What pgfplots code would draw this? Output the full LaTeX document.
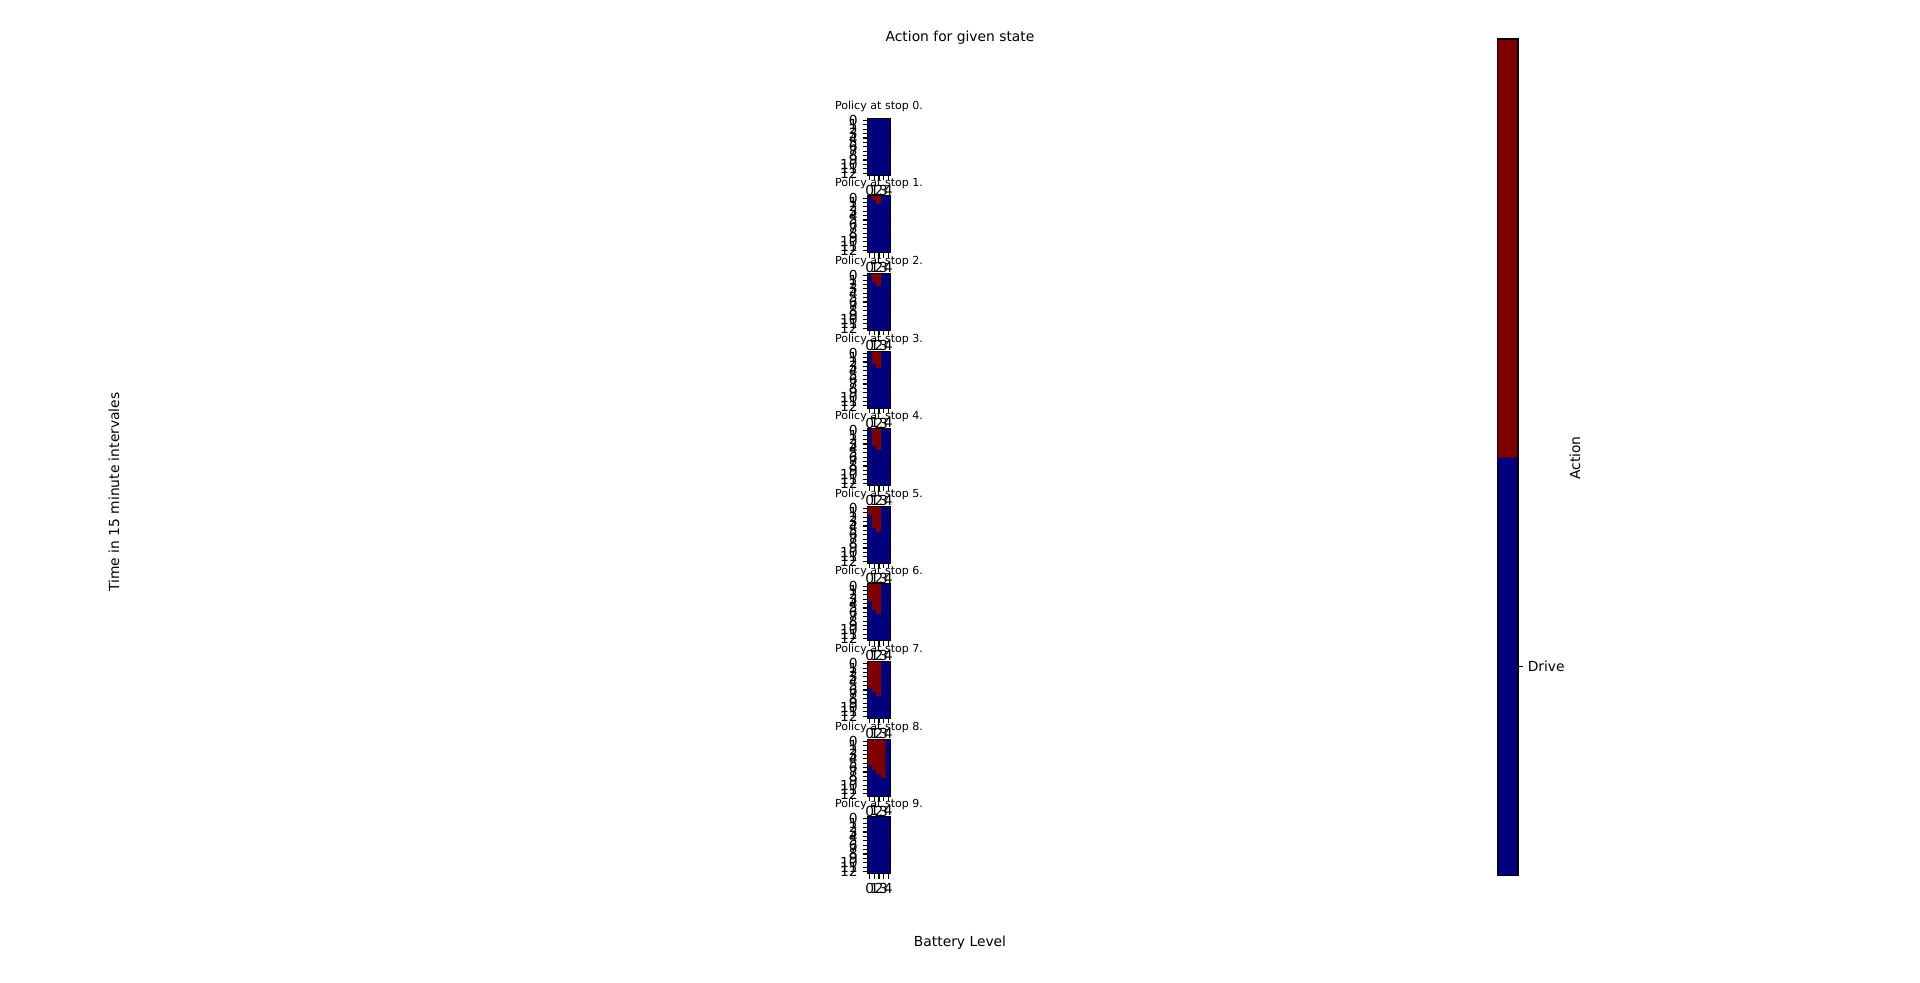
\documentclass[border=0pt]{standalone}
\usepackage{fontspec}
\setmainfont{DejaVu Sans}
\usepackage{pgfplots}
\usepackage{pgfplotstable}
\pgfplotsset{compat=1.18}

% stop 0
\pgfplotstableread[row sep=\\]{
x y c\\
0 0 0\\1 0 0\\2 0 0\\3 0 0\\4 0 0\\
0 1 0\\1 1 0\\2 1 0\\3 1 0\\4 1 0\\
0 2 0\\1 2 0\\2 2 0\\3 2 0\\4 2 0\\
0 3 0\\1 3 0\\2 3 0\\3 3 0\\4 3 0\\
0 4 0\\1 4 0\\2 4 0\\3 4 0\\4 4 0\\
0 5 0\\1 5 0\\2 5 0\\3 5 0\\4 5 0\\
0 6 0\\1 6 0\\2 6 0\\3 6 0\\4 6 0\\
0 7 0\\1 7 0\\2 7 0\\3 7 0\\4 7 0\\
0 8 0\\1 8 0\\2 8 0\\3 8 0\\4 8 0\\
0 9 0\\1 9 0\\2 9 0\\3 9 0\\4 9 0\\
0 10 0\\1 10 0\\2 10 0\\3 10 0\\4 10 0\\
0 11 0\\1 11 0\\2 11 0\\3 11 0\\4 11 0\\
0 12 0\\1 12 0\\2 12 0\\3 12 0\\4 12 0\\
}\stopA
% stop 1
\pgfplotstableread[row sep=\\]{
x y c\\
0 0 0\\1 0 1\\2 0 1\\3 0 0\\4 0 0\\
0 1 0\\1 1 0\\2 1 1\\3 1 0\\4 1 0\\
0 2 0\\1 2 0\\2 2 0\\3 2 0\\4 2 0\\
0 3 0\\1 3 0\\2 3 0\\3 3 0\\4 3 0\\
0 4 0\\1 4 0\\2 4 0\\3 4 0\\4 4 0\\
0 5 0\\1 5 0\\2 5 0\\3 5 0\\4 5 0\\
0 6 0\\1 6 0\\2 6 0\\3 6 0\\4 6 0\\
0 7 0\\1 7 0\\2 7 0\\3 7 0\\4 7 0\\
0 8 0\\1 8 0\\2 8 0\\3 8 0\\4 8 0\\
0 9 0\\1 9 0\\2 9 0\\3 9 0\\4 9 0\\
0 10 0\\1 10 0\\2 10 0\\3 10 0\\4 10 0\\
0 11 0\\1 11 0\\2 11 0\\3 11 0\\4 11 0\\
0 12 0\\1 12 0\\2 12 0\\3 12 0\\4 12 0\\
}\stopB
% stop 2
\pgfplotstableread[row sep=\\]{
x y c\\
0 0 0\\1 0 1\\2 0 1\\3 0 0\\4 0 0\\
0 1 0\\1 1 1\\2 1 1\\3 1 0\\4 1 0\\
0 2 0\\1 2 0\\2 2 1\\3 2 0\\4 2 0\\
0 3 0\\1 3 0\\2 3 0\\3 3 0\\4 3 0\\
0 4 0\\1 4 0\\2 4 0\\3 4 0\\4 4 0\\
0 5 0\\1 5 0\\2 5 0\\3 5 0\\4 5 0\\
0 6 0\\1 6 0\\2 6 0\\3 6 0\\4 6 0\\
0 7 0\\1 7 0\\2 7 0\\3 7 0\\4 7 0\\
0 8 0\\1 8 0\\2 8 0\\3 8 0\\4 8 0\\
0 9 0\\1 9 0\\2 9 0\\3 9 0\\4 9 0\\
0 10 0\\1 10 0\\2 10 0\\3 10 0\\4 10 0\\
0 11 0\\1 11 0\\2 11 0\\3 11 0\\4 11 0\\
0 12 0\\1 12 0\\2 12 0\\3 12 0\\4 12 0\\
}\stopC
% stop 3
\pgfplotstableread[row sep=\\]{
x y c\\
0 0 0\\1 0 1\\2 0 1\\3 0 0\\4 0 0\\
0 1 0\\1 1 1\\2 1 1\\3 1 0\\4 1 0\\
0 2 0\\1 2 1\\2 2 1\\3 2 0\\4 2 0\\
0 3 0\\1 3 0\\2 3 1\\3 3 0\\4 3 0\\
0 4 0\\1 4 0\\2 4 0\\3 4 0\\4 4 0\\
0 5 0\\1 5 0\\2 5 0\\3 5 0\\4 5 0\\
0 6 0\\1 6 0\\2 6 0\\3 6 0\\4 6 0\\
0 7 0\\1 7 0\\2 7 0\\3 7 0\\4 7 0\\
0 8 0\\1 8 0\\2 8 0\\3 8 0\\4 8 0\\
0 9 0\\1 9 0\\2 9 0\\3 9 0\\4 9 0\\
0 10 0\\1 10 0\\2 10 0\\3 10 0\\4 10 0\\
0 11 0\\1 11 0\\2 11 0\\3 11 0\\4 11 0\\
0 12 0\\1 12 0\\2 12 0\\3 12 0\\4 12 0\\
}\stopD
% stop 4
\pgfplotstableread[row sep=\\]{
x y c\\
0 0 0\\1 0 1\\2 0 1\\3 0 0\\4 0 0\\
0 1 0\\1 1 1\\2 1 1\\3 1 0\\4 1 0\\
0 2 0\\1 2 1\\2 2 1\\3 2 0\\4 2 0\\
0 3 0\\1 3 1\\2 3 1\\3 3 0\\4 3 0\\
0 4 0\\1 4 0\\2 4 1\\3 4 0\\4 4 0\\
0 5 0\\1 5 0\\2 5 0\\3 5 0\\4 5 0\\
0 6 0\\1 6 0\\2 6 0\\3 6 0\\4 6 0\\
0 7 0\\1 7 0\\2 7 0\\3 7 0\\4 7 0\\
0 8 0\\1 8 0\\2 8 0\\3 8 0\\4 8 0\\
0 9 0\\1 9 0\\2 9 0\\3 9 0\\4 9 0\\
0 10 0\\1 10 0\\2 10 0\\3 10 0\\4 10 0\\
0 11 0\\1 11 0\\2 11 0\\3 11 0\\4 11 0\\
0 12 0\\1 12 0\\2 12 0\\3 12 0\\4 12 0\\
}\stopE
% stop 5
\pgfplotstableread[row sep=\\]{
x y c\\
0 0 1\\1 0 1\\2 0 1\\3 0 0\\4 0 0\\
0 1 1\\1 1 1\\2 1 1\\3 1 0\\4 1 0\\
0 2 0\\1 2 1\\2 2 1\\3 2 0\\4 2 0\\
0 3 0\\1 3 1\\2 3 1\\3 3 0\\4 3 0\\
0 4 0\\1 4 1\\2 4 1\\3 4 0\\4 4 0\\
0 5 0\\1 5 0\\2 5 1\\3 5 0\\4 5 0\\
0 6 0\\1 6 0\\2 6 0\\3 6 0\\4 6 0\\
0 7 0\\1 7 0\\2 7 0\\3 7 0\\4 7 0\\
0 8 0\\1 8 0\\2 8 0\\3 8 0\\4 8 0\\
0 9 0\\1 9 0\\2 9 0\\3 9 0\\4 9 0\\
0 10 0\\1 10 0\\2 10 0\\3 10 0\\4 10 0\\
0 11 0\\1 11 0\\2 11 0\\3 11 0\\4 11 0\\
0 12 0\\1 12 0\\2 12 0\\3 12 0\\4 12 0\\
}\stopF
% stop 6
\pgfplotstableread[row sep=\\]{
x y c\\
0 0 1\\1 0 1\\2 0 1\\3 0 0\\4 0 0\\
0 1 1\\1 1 1\\2 1 1\\3 1 0\\4 1 0\\
0 2 1\\1 2 1\\2 2 1\\3 2 0\\4 2 0\\
0 3 1\\1 3 1\\2 3 1\\3 3 0\\4 3 0\\
0 4 0\\1 4 1\\2 4 1\\3 4 0\\4 4 0\\
0 5 0\\1 5 1\\2 5 1\\3 5 0\\4 5 0\\
0 6 0\\1 6 0\\2 6 1\\3 6 0\\4 6 0\\
0 7 0\\1 7 0\\2 7 0\\3 7 0\\4 7 0\\
0 8 0\\1 8 0\\2 8 0\\3 8 0\\4 8 0\\
0 9 0\\1 9 0\\2 9 0\\3 9 0\\4 9 0\\
0 10 0\\1 10 0\\2 10 0\\3 10 0\\4 10 0\\
0 11 0\\1 11 0\\2 11 0\\3 11 0\\4 11 0\\
0 12 0\\1 12 0\\2 12 0\\3 12 0\\4 12 0\\
}\stopG
% stop 7
\pgfplotstableread[row sep=\\]{
x y c\\
0 0 1\\1 0 1\\2 0 1\\3 0 0\\4 0 0\\
0 1 1\\1 1 1\\2 1 1\\3 1 0\\4 1 0\\
0 2 1\\1 2 1\\2 2 1\\3 2 0\\4 2 0\\
0 3 1\\1 3 1\\2 3 1\\3 3 0\\4 3 0\\
0 4 1\\1 4 1\\2 4 1\\3 4 0\\4 4 0\\
0 5 1\\1 5 1\\2 5 1\\3 5 0\\4 5 0\\
0 6 0\\1 6 1\\2 6 1\\3 6 0\\4 6 0\\
0 7 0\\1 7 0\\2 7 1\\3 7 0\\4 7 0\\
0 8 0\\1 8 0\\2 8 0\\3 8 0\\4 8 0\\
0 9 0\\1 9 0\\2 9 0\\3 9 0\\4 9 0\\
0 10 0\\1 10 0\\2 10 0\\3 10 0\\4 10 0\\
0 11 0\\1 11 0\\2 11 0\\3 11 0\\4 11 0\\
0 12 0\\1 12 0\\2 12 0\\3 12 0\\4 12 0\\
}\stopH
% stop 8
\pgfplotstableread[row sep=\\]{
x y c\\
0 0 1\\1 0 1\\2 0 1\\3 0 1\\4 0 0\\
0 1 1\\1 1 1\\2 1 1\\3 1 1\\4 1 0\\
0 2 1\\1 2 1\\2 2 1\\3 2 1\\4 2 0\\
0 3 1\\1 3 1\\2 3 1\\3 3 1\\4 3 0\\
0 4 1\\1 4 1\\2 4 1\\3 4 1\\4 4 0\\
0 5 1\\1 5 1\\2 5 1\\3 5 1\\4 5 0\\
0 6 0\\1 6 1\\2 6 1\\3 6 1\\4 6 0\\
0 7 0\\1 7 0\\2 7 1\\3 7 1\\4 7 0\\
0 8 0\\1 8 0\\2 8 0\\3 8 1\\4 8 0\\
0 9 0\\1 9 0\\2 9 0\\3 9 0\\4 9 0\\
0 10 0\\1 10 0\\2 10 0\\3 10 0\\4 10 0\\
0 11 0\\1 11 0\\2 11 0\\3 11 0\\4 11 0\\
0 12 0\\1 12 0\\2 12 0\\3 12 0\\4 12 0\\
}\stopI
% stop 9
\pgfplotstableread[row sep=\\]{
x y c\\
0 0 0\\1 0 0\\2 0 0\\3 0 0\\4 0 0\\
0 1 0\\1 1 0\\2 1 0\\3 1 0\\4 1 0\\
0 2 0\\1 2 0\\2 2 0\\3 2 0\\4 2 0\\
0 3 0\\1 3 0\\2 3 0\\3 3 0\\4 3 0\\
0 4 0\\1 4 0\\2 4 0\\3 4 0\\4 4 0\\
0 5 0\\1 5 0\\2 5 0\\3 5 0\\4 5 0\\
0 6 0\\1 6 0\\2 6 0\\3 6 0\\4 6 0\\
0 7 0\\1 7 0\\2 7 0\\3 7 0\\4 7 0\\
0 8 0\\1 8 0\\2 8 0\\3 8 0\\4 8 0\\
0 9 0\\1 9 0\\2 9 0\\3 9 0\\4 9 0\\
0 10 0\\1 10 0\\2 10 0\\3 10 0\\4 10 0\\
0 11 0\\1 11 0\\2 11 0\\3 11 0\\4 11 0\\
0 12 0\\1 12 0\\2 12 0\\3 12 0\\4 12 0\\
}\stopJ

\pgfplotsset{
  polbase/.style={
    scale only axis,
    anchor=north west,
    tick align=outside,
    major tick length=3.5bp,
    tick style={black, line width=0.8bp},
    axis line style={line width=0.8bp},
    tick label style={font=\fontsize{10}{12}\selectfont},
    /pgf/number format/assume math mode=true,
    colormap={pol}{rgb255=(0,0,127) rgb255=(127,0,0)},
    point meta min=0, point meta max=1,
    axis on top,
  },
  policymap/.style={
    polbase,
    width=16.56bp, height=41.04bp,
    xmin=-0.5, xmax=4.5, ymin=-0.5, ymax=12.5,
    y dir=reverse,
    xtick={0,...,4}, ytick={0,...,12},
    xtick pos=lower, ytick pos=lower,
    xticklabel pos=lower, yticklabel pos=lower,
    title style={font=\fontsize{8}{9}\selectfont, at={(0.5,1)}, anchor=south, yshift=-2.3bp, inner sep=1bp},
  },
}

\newcommand\policy[3]{%
  \begin{axis}[policymap, at={(624.6bp,#2bp)}, title={Policy at stop #1.}]
    \addplot[matrix plot*, mesh/cols=5, point meta=explicit] table[x=x, y=y, meta=c] {#3};
  \end{axis}}

\begin{document}
\begin{tikzpicture}
  \path[use as bounding box] (0,0) rectangle (1382.4bp,707.76bp);

  \policy{0}{622.58}{\stopA}
  \policy{1}{566.71}{\stopB}
  \policy{2}{510.84}{\stopC}
  \policy{3}{454.97}{\stopD}
  \policy{4}{399.10}{\stopE}
  \policy{5}{343.22}{\stopF}
  \policy{6}{287.35}{\stopG}
  \policy{7}{231.48}{\stopH}
  \policy{8}{175.61}{\stopI}
  \policy{9}{119.74}{\stopJ}

  % colorbar
  \begin{axis}[polbase,
    at={(1078.2bp,679.68bp)},
    width=14.76bp, height=602.28bp,
    xmin=-0.5, xmax=1.5, ymin=-0.5, ymax=1.5,
    xtick=\empty, ytick={0}, yticklabels={Drive},
    ytick pos=right, yticklabel pos=right]
    \addplot[matrix plot*, mesh/cols=2, point meta=explicit] coordinates {(0,0) [0] (1,0) [0] (0,1) [1] (1,1) [1]};
  \end{axis}

  \node[font=\fontsize{10}{12}\selectfont] at (691.2bp,680.4bp) {Action for given state};
  \node[font=\fontsize{10}{12}\selectfont] at (691.2bp,28.8bp) {Battery Level};
  \node[font=\fontsize{10}{12}\selectfont, rotate=90] at (82.08bp,353.52bp) {Time in 15 minute intervales};
  \node[font=\fontsize{10}{12}\selectfont, rotate=90] at (1134bp,378bp) {Action};
\end{tikzpicture}
\end{document}
